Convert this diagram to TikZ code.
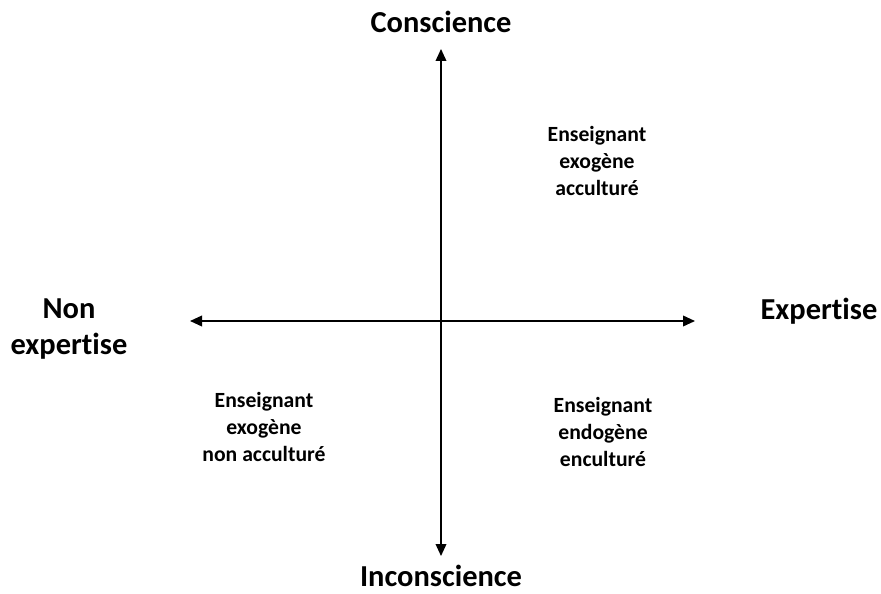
\documentclass[tikz,border=0pt]{standalone}
\usepackage{fontspec}
\setmainfont{Carlito}[RawFeature=-liga]
\usetikzlibrary{arrows.meta}

\tikzset{
	axislabel/.style={font=\fontsize{26}{31}\selectfont\bfseries, align=center},
	quadlabel/.style={font=\fontsize{18.5}{23}\selectfont\bfseries, align=center}
}

\begin{document}
\begin{tikzpicture}[x=0.03cm, y=-0.03cm, >={Triangle[length=3.6mm, width=3.2mm]}]
	\useasboundingbox (0,0) rectangle (881,593);
	% axes
	\coordinate (top) at (441,49);
	\coordinate (bottom) at (441,556);
	\coordinate (left) at (190,321);
	\coordinate (right) at (695,321);
	\draw[<->, line width=1.3pt] (bottom) -- (top);
	\draw[<->, line width=1.3pt] (left) -- (right);
	% axis names
	\node[axislabel] (conscience) at (441,22) {Conscience};
	\node[axislabel] (inconscience) at (441,576) {Inconscience};
	\node[axislabel] (expertise) at (819,311) {Expertise};
	\node[axislabel] (nonexpertise) at (69,329) {Non\\expertise};
	% quadrants
	\node[quadlabel] (acculture) at (597,161) {Enseignant\\exogène\\acculturé};
	\node[quadlabel] (nonacculture) at (264,427) {Enseignant\\exogène\\non acculturé};
	\node[quadlabel] (enculture) at (603,432) {Enseignant\\endogène\\enculturé};
\end{tikzpicture}
\end{document}
